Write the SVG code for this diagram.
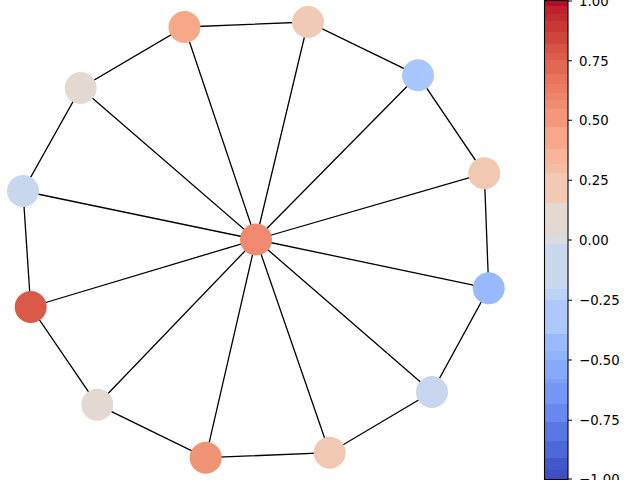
<svg xmlns="http://www.w3.org/2000/svg" width="640" height="480" viewBox="0 0 640 480">
<style>
.e{stroke:#000;stroke-width:1.3;fill:none}
.n{stroke:none}
.t{font-family:"DejaVu Sans",sans-serif;font-size:13.3px;fill:#000}
.tk{stroke:#000;stroke-width:1.1}
</style>
<rect width="640" height="480" fill="#fff"/>
<g id="connectors">
<path class="e" d="M308,22L184.5,27L80.7,88L23,191L30.7,307L97.3,404.7L205.7,457.7L329.7,452.7L432,392L488.7,288.3L484.3,173.3L418,75.3Z"/>
<path class="e" d="M256,239.5L308,22M256,239.5L184.5,27M256,239.5L80.7,88M256,239.5L23,191M256,239.5L30.7,307M256,239.5L97.3,404.7M256,239.5L205.7,457.7M256,239.5L329.7,452.7M256,239.5L432,392M256,239.5L488.7,288.3M256,239.5L484.3,173.3M256,239.5L418,75.3"/>
</g>
<g id="node1"><circle class="n" cx="308" cy="22" r="16" fill="#f1cab6"/></g>
<g id="node2"><circle class="n" cx="184.5" cy="27" r="16" fill="#f6a889"/></g>
<g id="node3"><circle class="n" cx="80.7" cy="88" r="16" fill="#e3d9d1"/></g>
<g id="node4"><circle class="n" cx="23" cy="191" r="16" fill="#c8d7ee"/></g>
<g id="node5"><circle class="n" cx="30.7" cy="307" r="16" fill="#da5847"/></g>
<g id="node6"><circle class="n" cx="97.3" cy="404.7" r="16" fill="#e3d9d1"/></g>
<g id="node7"><circle class="n" cx="205.7" cy="457.7" r="16" fill="#f09476"/></g>
<g id="node8"><circle class="n" cx="329.7" cy="452.7" r="16" fill="#f1c8b2"/></g>
<g id="node9"><circle class="n" cx="432" cy="392" r="16" fill="#c8d7ee"/></g>
<g id="node10"><circle class="n" cx="488.7" cy="288.3" r="16" fill="#98b9ff"/></g>
<g id="node11"><circle class="n" cx="484.3" cy="173.3" r="16" fill="#f1c8b2"/></g>
<g id="node12"><circle class="n" cx="418" cy="75.3" r="16" fill="#aac7fd"/></g>
<g id="center"><circle class="n" cx="256" cy="239.5" r="16" fill="#f08a6e"/></g>
<g id="colorbar">
<rect x="544.5" y="0" width="23.5" height="6" fill="rgb(182,12,40)"/>
<rect x="544.5" y="6" width="23.5" height="8" fill="rgb(189,33,45)"/>
<rect x="544.5" y="14" width="23.5" height="7" fill="rgb(194,44,48)"/>
<rect x="544.5" y="21" width="23.5" height="11" fill="rgb(200,57,54)"/>
<rect x="544.5" y="32" width="23.5" height="12" fill="rgb(207,69,59)"/>
<rect x="544.5" y="44" width="23.5" height="9" fill="rgb(215,84,68)"/>
<rect x="544.5" y="53" width="23.5" height="7" fill="rgb(220,93,75)"/>
<rect x="544.5" y="60" width="23.5" height="14" fill="rgb(226,104,82)"/>
<rect x="544.5" y="74" width="23.5" height="10" fill="rgb(231,116,91)"/>
<rect x="544.5" y="84" width="23.5" height="9" fill="rgb(235,125,98)"/>
<rect x="544.5" y="93" width="23.5" height="7" fill="rgb(238,133,104)"/>
<rect x="544.5" y="100" width="23.5" height="9" fill="rgb(241,141,111)"/>
<rect x="544.5" y="109" width="23.5" height="18" fill="rgb(244,152,121)"/>
<rect x="544.5" y="127" width="23.5" height="22" fill="rgb(247,168,138)"/>
<rect x="544.5" y="149" width="23.5" height="15" fill="rgb(247,181,153)"/>
<rect x="544.5" y="164" width="23.5" height="9" fill="rgb(246,189,163)"/>
<rect x="544.5" y="173" width="23.5" height="30" fill="rgb(243,201,180)"/>
<rect x="544.5" y="203" width="23.5" height="32" fill="rgb(228,217,208)"/>
<rect x="544.5" y="235" width="23.5" height="9" fill="rgb(218,220,224)"/>
<rect x="544.5" y="244" width="23.5" height="45" fill="rgb(202,216,237)"/>
<rect x="544.5" y="289" width="23.5" height="11" fill="rgb(188,210,247)"/>
<rect x="544.5" y="300" width="23.5" height="34" fill="rgb(172,200,253)"/>
<rect x="544.5" y="334" width="23.5" height="17" fill="rgb(154,186,255)"/>
<rect x="544.5" y="351" width="23.5" height="9" fill="rgb(144,179,254)"/>
<rect x="544.5" y="360" width="23.5" height="19" fill="rgb(134,169,252)"/>
<rect x="544.5" y="379" width="23.5" height="4" fill="rgb(125,160,249)"/>
<rect x="544.5" y="383" width="23.5" height="21" fill="rgb(117,152,246)"/>
<rect x="544.5" y="404" width="23.5" height="18" fill="rgb(103,136,238)"/>
<rect x="544.5" y="422" width="23.5" height="19" fill="rgb(89,119,226)"/>
<rect x="544.5" y="441" width="23.5" height="17" fill="rgb(77,104,215)"/>
<rect x="544.5" y="458" width="23.5" height="12" fill="rgb(66,88,202)"/>
<rect x="544.5" y="470" width="23.5" height="10" fill="rgb(61,79,195)"/>
<rect x="544.5" y="0.5" width="23.5" height="479" fill="none" stroke="#000" stroke-width="1.1"/>
<path class="tk" d="M568,1H572M568,60.7H572M568,120.3H572M568,180.2H572M568,240H572M568,300.3H572M568,360H572M568,420.3H572M568,479H572"/>
<text class="t" x="579" y="6">1.00</text>
<text class="t" x="579" y="65.5">0.75</text>
<text class="t" x="579" y="125">0.50</text>
<text class="t" x="579" y="185">0.25</text>
<text class="t" x="579" y="245">0.00</text>
<text class="t" x="579" y="305">−0.25</text>
<text class="t" x="579" y="365">−0.50</text>
<text class="t" x="579" y="425">−0.75</text>
<text class="t" x="579" y="484">−1.00</text>
</g>
</svg>
